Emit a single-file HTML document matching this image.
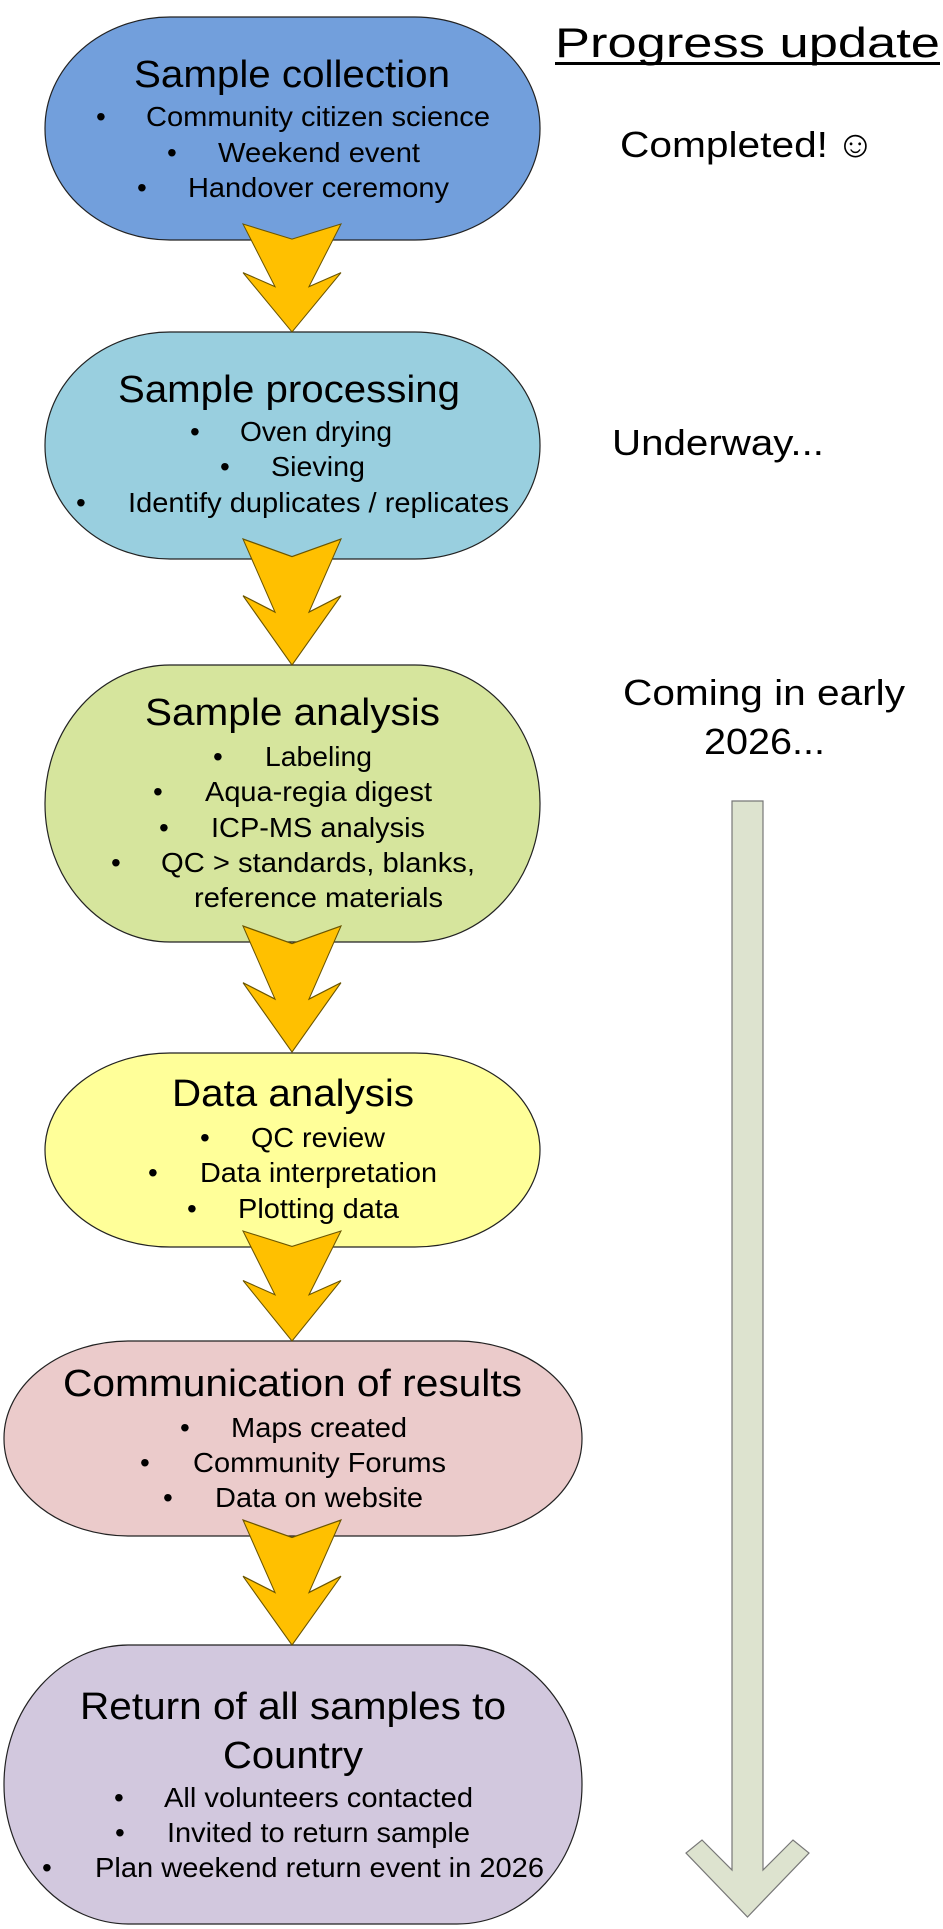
<!DOCTYPE html>
<html><head><meta charset="utf-8"><style>html,body{margin:0;padding:0;background:#fff}svg{display:block}text{font-family:"Liberation Sans",Arial,sans-serif;fill:#000}</style></head>
<body>
<svg width="943" height="1929" viewBox="0 0 943 1929" xmlns="http://www.w3.org/2000/svg">
<defs>
<g id="arr"><path d="M-49 0 L0 14 L49 0 L17 58 L49 45 L0 100 L-49 45 L-17 58 Z" fill="#ffc000" stroke="#6b5500" stroke-width="1"/></g>
</defs>
<rect x="45" y="17" width="495" height="223" rx="125" ry="111" fill="#729fdc" stroke="#222" stroke-width="1.2"/>
<rect x="45" y="332" width="495" height="227" rx="125" ry="113" fill="#99cfdf" stroke="#222" stroke-width="1.2"/>
<rect x="45" y="665" width="495" height="277" rx="125" ry="138" fill="#d6e59d" stroke="#222" stroke-width="1.2"/>
<rect x="45" y="1053" width="495" height="194" rx="125" ry="97" fill="#ffff99" stroke="#222" stroke-width="1.2"/>
<rect x="4" y="1341" width="578" height="195" rx="125" ry="97" fill="#ebcbcb" stroke="#222" stroke-width="1.2"/>
<rect x="4" y="1645" width="578" height="279" rx="125" ry="139" fill="#d2c8de" stroke="#222" stroke-width="1.2"/>
<g transform="translate(292,224) scale(1,1.08)"><use href="#arr"/></g>
<g transform="translate(292,539) scale(1,1.26)"><use href="#arr"/></g>
<g transform="translate(292,926) scale(1,1.26)"><use href="#arr"/></g>
<g transform="translate(292,1231) scale(1,1.10)"><use href="#arr"/></g>
<g transform="translate(292,1520) scale(1,1.25)"><use href="#arr"/></g>
<path d="M732 801 L763 801 L763 1870 L793 1840 L809 1853 L747.5 1917 L686 1853 L702 1840 L732 1870 Z" fill="#dde3cf" stroke="#777" stroke-width="1.2"/>
<text x="555" y="57" font-size="42" textLength="385" lengthAdjust="spacingAndGlyphs">Progress update</text>
<rect x="555" y="62" width="385" height="3" fill="#000"/>
<text x="620" y="157" font-size="36" textLength="208" lengthAdjust="spacingAndGlyphs">Completed!</text>
<text x="836" y="157" font-size="38">☺</text>
<text x="612" y="455" font-size="36" textLength="212" lengthAdjust="spacingAndGlyphs">Underway...</text>
<text x="623" y="705" font-size="36" textLength="282" lengthAdjust="spacingAndGlyphs">Coming in early</text>
<text x="704" y="754" font-size="36" textLength="121" lengthAdjust="spacingAndGlyphs">2026...</text>
<g font-size="28">
<text x="134" y="87" font-size="38" textLength="316" lengthAdjust="spacingAndGlyphs">Sample collection</text>
<text x="96" y="126">•</text><text x="146" y="126" textLength="344" lengthAdjust="spacingAndGlyphs">Community citizen science</text>
<text x="167" y="162">•</text><text x="218" y="162" textLength="202" lengthAdjust="spacingAndGlyphs">Weekend event</text>
<text x="137" y="197">•</text><text x="188" y="197" textLength="261" lengthAdjust="spacingAndGlyphs">Handover ceremony</text>
<text x="118" y="402" font-size="38" textLength="342" lengthAdjust="spacingAndGlyphs">Sample processing</text>
<text x="190" y="441">•</text><text x="240" y="441" textLength="152" lengthAdjust="spacingAndGlyphs">Oven drying</text>
<text x="220" y="476">•</text><text x="271" y="476" textLength="94" lengthAdjust="spacingAndGlyphs">Sieving</text>
<text x="76" y="512">•</text><text x="128" y="512" textLength="381" lengthAdjust="spacingAndGlyphs">Identify duplicates / replicates</text>
<text x="145" y="725" font-size="38" textLength="295" lengthAdjust="spacingAndGlyphs">Sample analysis</text>
<text x="213" y="766">•</text><text x="265" y="766" textLength="107" lengthAdjust="spacingAndGlyphs">Labeling</text>
<text x="153" y="801">•</text><text x="205" y="801" textLength="227" lengthAdjust="spacingAndGlyphs">Aqua-regia digest</text>
<text x="159" y="837">•</text><text x="211" y="837" textLength="214" lengthAdjust="spacingAndGlyphs">ICP-MS analysis</text>
<text x="111" y="872">•</text><text x="161" y="872" textLength="314" lengthAdjust="spacingAndGlyphs">QC &gt; standards, blanks,</text>
<text x="194" y="907" textLength="249" lengthAdjust="spacingAndGlyphs">reference materials</text>
<text x="172" y="1106" font-size="38" textLength="242" lengthAdjust="spacingAndGlyphs">Data analysis</text>
<text x="200" y="1147">•</text><text x="251" y="1147" textLength="134" lengthAdjust="spacingAndGlyphs">QC review</text>
<text x="148" y="1182">•</text><text x="200" y="1182" textLength="237" lengthAdjust="spacingAndGlyphs">Data interpretation</text>
<text x="187" y="1218">•</text><text x="238" y="1218" textLength="161" lengthAdjust="spacingAndGlyphs">Plotting data</text>
<text x="63" y="1396" font-size="38" textLength="459" lengthAdjust="spacingAndGlyphs">Communication of results</text>
<text x="180" y="1437">•</text><text x="231" y="1437" textLength="176" lengthAdjust="spacingAndGlyphs">Maps created</text>
<text x="140" y="1472">•</text><text x="193" y="1472" textLength="253" lengthAdjust="spacingAndGlyphs">Community Forums</text>
<text x="163" y="1507">•</text><text x="215" y="1507" textLength="208" lengthAdjust="spacingAndGlyphs">Data on website</text>
<text x="80" y="1719" font-size="38" textLength="426" lengthAdjust="spacingAndGlyphs">Return of all samples to</text>
<text x="223" y="1768" font-size="38" textLength="140" lengthAdjust="spacingAndGlyphs">Country</text>
<text x="114" y="1807">•</text><text x="164" y="1807" textLength="309" lengthAdjust="spacingAndGlyphs">All volunteers contacted</text>
<text x="115" y="1842">•</text><text x="167" y="1842" textLength="303" lengthAdjust="spacingAndGlyphs">Invited to return sample</text>
<text x="42" y="1877">•</text><text x="95" y="1877" textLength="449" lengthAdjust="spacingAndGlyphs">Plan weekend return event in 2026</text>
</g>
</svg>
</body></html>
